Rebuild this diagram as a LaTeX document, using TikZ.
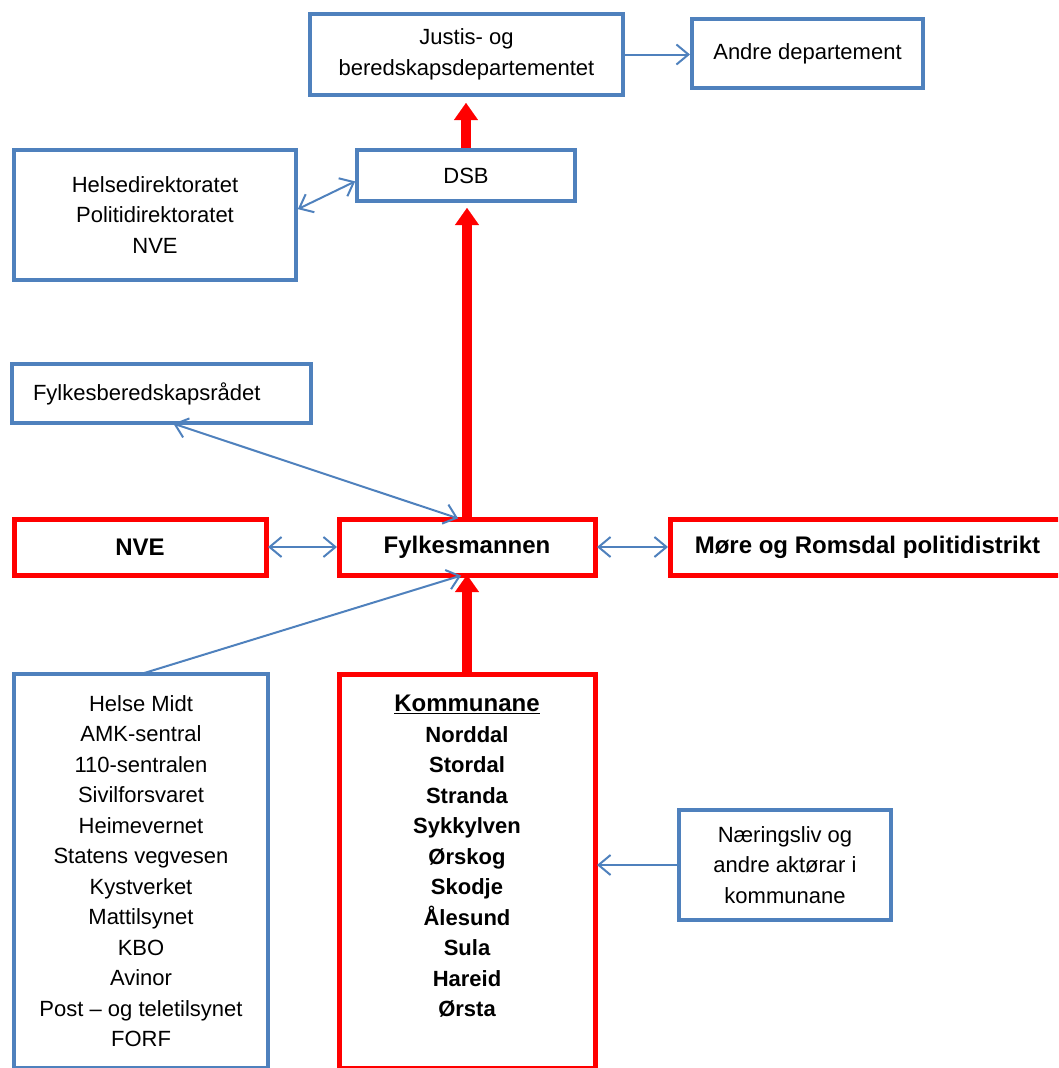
\documentclass[tikz,border=0pt]{standalone}
\usepackage{fontspec}
\setmainfont{Liberation Sans}
\usetikzlibrary{arrows.meta}
\definecolor{boxblue}{HTML}{4F81BD}
\definecolor{boxred}{HTML}{FF0000}

\begin{document}
\begin{tikzpicture}[x=1pt,y=-1pt,
   barb/.tip={Straight Barb[length=12pt,width=20pt]},
   bluebox/.style={draw=boxblue, line width=4pt, fill=white, align=center, inner sep=0pt, outer sep=0pt, font=\fontsize{22}{30.5}\selectfont},
   redbox/.style={draw=boxred, line width=5pt, fill=white, align=center, inner sep=0pt, outer sep=0pt, font=\fontsize{24}{30.5}\selectfont\bfseries},
   link/.style={draw=boxblue, line width=2pt, shorten <=2pt, shorten >=2pt},
   biglink/.style={draw=boxred, line width=10pt, -{Triangle[length=17pt,width=24pt,line width=0.1pt]}}]

   \useasboundingbox (0,0) rectangle (1058,1068);
   \clip (0,0) rectangle (1058,1068);

   \node[bluebox, minimum width=313, minimum height=81] (jbd) at (466.5,54.5) {Justis- og\\beredskapsdepartementet};
   \node[bluebox, minimum width=231, minimum height=69] (andre) at (807.5,53.5) {Andre departement};
   \node[bluebox, minimum width=218, minimum height=51] (dsb) at (466,175.5) {DSB};
   \node[bluebox, minimum width=282, minimum height=130] (helse) at (155,215) {Helsedirektoratet\\Politidirektoratet\\NVE};
   \node[bluebox, text width=257, inner xsep=21, minimum height=59, align=left] (fbr) at (161.5,393.5) {Fylkesberedskapsrådet};

   \node[redbox, minimum width=252, minimum height=56] (nve) at (140,547) {NVE};
   \node[redbox, minimum width=256, minimum height=56] (fm) at (467,547) {Fylkesmannen};
   \node[redbox, minimum width=395, minimum height=56] (mr) at (867.5,547) {Møre og Romsdal politidistrikt};

   \node[bluebox, minimum width=254, minimum height=394] (liste) at (141,871) {Helse Midt\\AMK-sentral\\110-sentralen\\Sivilforsvaret\\Heimevernet\\Statens vegvesen\\Kystverket\\Mattilsynet\\KBO\\Avinor\\Post – og teletilsynet\\FORF};
   \node[redbox, font=\fontsize{22}{30.5}\selectfont\bfseries, minimum width=256, minimum height=394] (komm) at (467,871) {{\fontsize{24}{30.5}\selectfont\underline{Kommunane}}\\Norddal\\Stordal\\Stranda\\Sykkylven\\Ørskog\\Skodje\\Ålesund\\Sula\\Hareid\\Ørsta\\\mbox{}};
   \node[bluebox, minimum width=212, minimum height=110] (naer) at (785,865) {Næringsliv og\\andre aktørar i\\kommunane};

   \draw[biglink, shorten <=2pt, shorten >=8pt] (dsb.north) -- (dsb.north |- jbd.south);
   \draw[biglink, shorten >=7pt] (fm.north) -- (fm.north |- dsb.south);
   \draw[biglink] (komm.north) -- (fm.south);

   \draw[link, -barb] (jbd.east) -- (andre.west |- jbd.east);
   \draw[link, barb-barb] ([yshift=-5pt]dsb.west) -- ([yshift=5pt]helse.east);
   \draw[link, barb-barb] ([xshift=10pt]fbr.south) -- ([xshift=-7pt]fm.north);
   \draw[link, barb-barb] (nve.east) -- (fm.west);
   \draw[link, barb-barb] (fm.east) -- (mr.west);
   \draw[link, -barb] (liste.north) -- ([xshift=-4pt]fm.south);
   \draw[link, -barb] (naer.west) -- (naer.west -| komm.east);
\end{tikzpicture}
\end{document}
